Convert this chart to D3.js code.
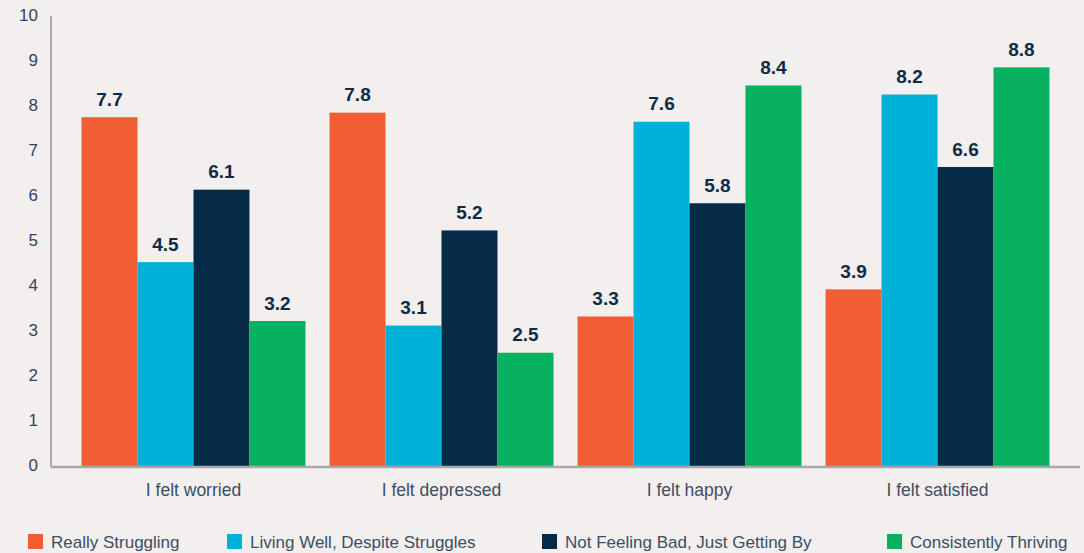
<!DOCTYPE html>
<html><head><meta charset="utf-8">
<script src="https://cdn.jsdelivr.net/npm/d3@7"></script>
<style>
html,body{margin:0;padding:0;background:#f3efef;}
svg{display:block;font-family:"Liberation Sans",Arial,sans-serif;}
</style></head>
<body>
<svg id="chart" width="1084" height="553"></svg>
<script>
const categories = ["I felt worried","I felt depressed","I felt happy","I felt satisfied"];
const seriesNames = ["Really Struggling","Living Well, Despite Struggles","Not Feeling Bad, Just Getting By","Consistently Thriving"];
const reallyStruggling = [7.7, 7.8, 3.3, 3.9];
const livingWell = [4.5, 3.1, 7.6, 8.2];
const notFeelingBad = [6.1, 5.2, 5.8, 6.6];
const consistentlyThriving = [3.2, 2.5, 8.4, 8.8];
const yTicks = [0,1,2,3,4,5,6,7,8,9,10];
const colors = ["#f15e33","#00b1d9","#062b48","#08b15f"];

const seriesValues = [reallyStruggling, livingWell, notFeelingBad, consistentlyThriving];
const svg = d3.select("#chart");
const mLeft = 51, mRight = 1080, mBottom = 466, mTop = 13;

const x0 = d3.scaleBand().domain(categories).range([mLeft, mRight]).paddingInner(0.097).paddingOuter(0.123);
const x1 = d3.scaleBand().domain(seriesNames).range([0, x0.bandwidth()]);
const y = d3.scaleLinear().domain([0,10]).range([mBottom, mTop]);

// y tick labels
svg.append("g").selectAll("text").data(yTicks).join("text")
  .attr("x", 38).attr("y", d => y(d) + 0.3*d - 1).attr("dy", "0.35em")
  .attr("text-anchor","end").attr("font-size", 17).attr("fill","#2e4560")
  .text(d => d);

// bars
const groups = svg.append("g").selectAll("g").data(categories).join("g")
  .attr("transform", c => `translate(${x0(c)},0)`);
groups.selectAll("rect").data((c,i) => seriesNames.map((s,j) => ({s, j, v: seriesValues[j][i]})))
  .join("rect")
  .attr("x", d => x1(d.s)).attr("width", x1.bandwidth())
  .attr("y", d => y(d.v)).attr("height", d => y(0) - y(d.v))
  .attr("fill", d => colors[d.j]);
groups.selectAll("text").data((c,i) => seriesNames.map((s,j) => ({s, j, v: seriesValues[j][i]})))
  .join("text")
  .attr("x", d => x1(d.s) + x1.bandwidth()/2).attr("y", d => y(d.v) - 11.5)
  .attr("text-anchor","middle").attr("font-size", 19).attr("font-weight","bold")
  .attr("fill","#0d2b45").text(d => d.v.toFixed(1));

// axes lines
svg.append("line").attr("x1", mLeft).attr("x2", mLeft).attr("y1", 16).attr("y2", mBottom+1)
  .attr("stroke","#a8a8a8").attr("stroke-width",2);
svg.append("line").attr("x1", mLeft).attr("x2", mRight).attr("y1", mBottom+1).attr("y2", mBottom+1)
  .attr("stroke","#a8a8a8").attr("stroke-width",2.5);

// category labels
svg.append("g").selectAll("text").data(categories).join("text")
  .attr("x", c => x0(c) + x0.bandwidth()/2).attr("y", 490).attr("dy","0.35em")
  .attr("text-anchor","middle").attr("font-size", 17.5).attr("fill","#3b4e63")
  .text(c => c);

// legend
const legendX = [28, 227, 542, 887];
const lg = svg.append("g").selectAll("g").data(seriesNames).join("g")
  .attr("transform", (d,i) => `translate(${legendX[i]},534)`);
lg.append("rect").attr("width",15).attr("height",15).attr("fill",(d,i)=>colors[i]);
lg.append("text").attr("x",23).attr("y",8).attr("dy","0.35em")
  .attr("font-size",17).attr("fill","#3b4e63").text(d => d);
</script>
</body></html>
